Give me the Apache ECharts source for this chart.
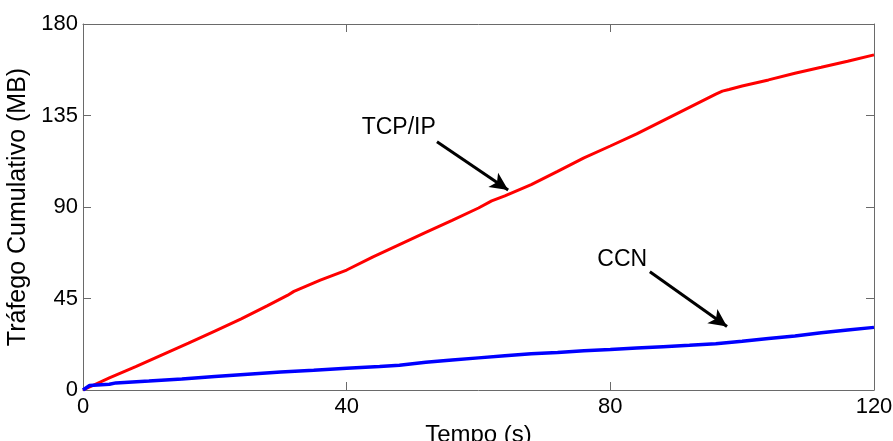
<!DOCTYPE html>
<html>
<head>
<meta charset="utf-8">
<script src="https://cdn.jsdelivr.net/npm/echarts@6/dist/echarts.min.js"></script>
<style>
  html, body { margin: 0; padding: 0; background: #fff; }
  #chart { width: 893px; height: 441px; }
</style>
</head>
<body>
<div id="chart"></div>
<script>
// tempo (s) e tráfego cumulativo (MB)
var tempoTcp = [0, 4, 8, 12, 16, 20, 24, 28, 31, 32, 36, 40, 44, 48, 52, 56, 60, 62, 64, 68, 72, 76, 80, 84, 88, 92, 96, 97, 98, 100, 104, 108, 112, 116, 120];
var trafegoTcp = [0, 6, 11.5, 17.3, 23, 29, 35, 41.5, 46.5, 48.5, 54, 59, 65.5, 71.5, 77.5, 83.4, 89.5, 93, 95.5, 101, 107.5, 114.2, 120, 126, 132.5, 139, 145.5, 147, 147.8, 149.5, 152.5, 155.8, 158.7, 161.7, 164.8];

var tempoCcn = [0, 1, 4, 5, 10, 15, 20, 25, 30, 35, 40, 45, 48, 52, 56, 60, 64, 68, 72, 76, 80, 84, 88, 92, 96, 100, 104, 108, 112, 116, 120];
var trafegoCcn = [0, 2.2, 2.8, 3.5, 4.4, 5.4, 6.6, 7.7, 8.8, 9.7, 10.7, 11.5, 12.2, 13.6, 14.7, 15.8, 16.8, 17.8, 18.5, 19.3, 19.9, 20.6, 21.3, 22, 22.8, 24, 25.3, 26.6, 28.1, 29.5, 30.8];

var ticksX = [0, 40, 80, 120];
var ticksY = [0, 45, 90, 135, 180];

// anotações: [x, y] do texto, início e ponta da seta
var rotuloTcp = { texto: 'TCP/IP', pos: [47.9, 128.9], de: [53.7, 122.1], ate: [64.5, 98.4] };
var rotuloCcn = { texto: 'CCN', pos: [81.8, 64.2], de: [86.0, 58.2], ate: [97.7, 31.2] };

var fonte = '"Liberation Sans", Arial, sans-serif';
var corEixo = '#6a6a6a';

function juntar(xs, ys) {
    var out = [];
    for (var i = 0; i < xs.length; i++) out.push([xs[i], ys[i]]);
    return out;
}

function anotacao(r) {
    return {
        markLine: {
            silent: true,
            symbol: ['none', 'arrow'],
            symbolSize: [13, 18],
            lineStyle: { color: '#000', width: 3, type: 'solid' },
            label: { show: false },
            animation: false,
            data: [[{ coord: r.de }, { coord: r.ate }]]
        },
        markPoint: {
            silent: true,
            symbol: 'circle',
            symbolSize: 0,
            animation: false,
            label: {
                show: true, position: 'inside', formatter: r.texto,
                color: '#000', fontSize: 23, fontFamily: fonte
            },
            data: [{ coord: r.pos }]
        }
    };
}

var chart = echarts.init(document.getElementById('chart'));

var eixoX = {
    type: 'value', min: ticksX[0], max: ticksX[ticksX.length - 1], interval: 40,
    axisLine: { show: true, onZero: false, lineStyle: { color: corEixo, width: 1 } },
    axisTick: { show: true, inside: true, length: 8, lineStyle: { color: corEixo } },
    splitLine: { show: false }
};
var eixoY = {
    type: 'value', min: ticksY[0], max: ticksY[ticksY.length - 1], interval: 45,
    axisLine: { show: true, onZero: false, lineStyle: { color: corEixo, width: 1 } },
    axisTick: { show: true, inside: true, length: 8, lineStyle: { color: corEixo } },
    splitLine: { show: false }
};

var option = {
    animation: false,
    backgroundColor: '#fff',
    grid: { left: 83, right: 19, top: 24, bottom: 51, outerBoundsMode: 'none', containLabel: false },
    xAxis: [
        Object.assign({}, eixoX, {
            position: 'bottom',
            name: 'Tempo (s)', nameLocation: 'middle', nameGap: 30,
            nameTextStyle: { color: '#000', fontSize: 24, fontFamily: fonte },
            axisLabel: { color: '#000', fontSize: 22, fontFamily: fonte, margin: 6 }
        }),
        Object.assign({}, eixoX, { position: 'top', axisLabel: { show: false } })
    ],
    yAxis: [
        Object.assign({}, eixoY, {
            position: 'left',
            name: 'Tráfego Cumulativo (MB)', nameLocation: 'middle', nameGap: 48,
            nameTextStyle: { color: '#000', fontSize: 25, fontFamily: fonte },
            axisLabel: { color: '#000', fontSize: 22, fontFamily: fonte, margin: 5 }
        }),
        Object.assign({}, eixoY, { position: 'right', axisLabel: { show: false } })
    ],
    series: [
        Object.assign({
            name: 'TCP/IP', type: 'line', showSymbol: false, symbol: 'none',
            data: juntar(tempoTcp, trafegoTcp),
            lineStyle: { color: '#ff0000', width: 3 }, z: 3
        }, anotacao(rotuloTcp)),
        Object.assign({
            name: 'CCN', type: 'line', showSymbol: false, symbol: 'none',
            data: juntar(tempoCcn, trafegoCcn),
            lineStyle: { color: '#0000ff', width: 3.5 }, z: 4
        }, anotacao(rotuloCcn))
    ]
};

chart.setOption(option);
</script>
</body>
</html>
